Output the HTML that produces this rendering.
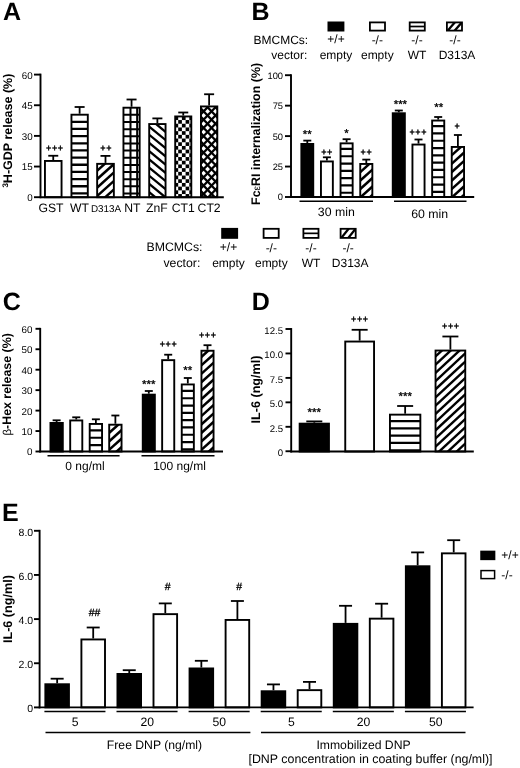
<!DOCTYPE html>
<html><head><meta charset="utf-8"><title>Figure</title>
<style>
html,body{margin:0;padding:0;background:#fff;}
svg{display:block;font-family:"Liberation Sans", Arial, Helvetica, sans-serif;fill:#000;will-change:transform;text-rendering:geometricPrecision;}
</style></head><body>
<svg width="520" height="768" viewBox="0 0 520 768">
<rect x="0" y="0" width="520" height="768" fill="#fff"/>
<defs><clipPath id="c1"><rect x="71.45" y="114.70" width="16.35" height="82.50"/></clipPath><clipPath id="c2"><rect x="97.15" y="163.85" width="16.70" height="33.35"/></clipPath><clipPath id="c3"><rect x="123.45" y="107.70" width="16.20" height="89.50"/></clipPath><clipPath id="c4"><rect x="149.20" y="124.05" width="16.35" height="73.15"/></clipPath><clipPath id="c5"><rect x="175.20" y="116.45" width="16.10" height="80.75"/></clipPath><clipPath id="c6"><rect x="200.95" y="106.45" width="16.35" height="90.75"/></clipPath><clipPath id="c7"><rect x="447.00" y="22.50" width="14.9" height="8"/></clipPath><clipPath id="c8"><rect x="340.70" y="228.90" width="14.9" height="8.9"/></clipPath><clipPath id="c9"><rect x="340.55" y="143.35" width="12.10" height="53.65"/></clipPath><clipPath id="c10"><rect x="360.25" y="163.95" width="12.10" height="33.05"/></clipPath><clipPath id="c11"><rect x="432.15" y="120.55" width="12.10" height="76.45"/></clipPath><clipPath id="c12"><rect x="451.75" y="146.95" width="12.30" height="50.05"/></clipPath><clipPath id="c13"><rect x="89.70" y="423.95" width="12.35" height="27.55"/></clipPath><clipPath id="c14"><rect x="109.20" y="424.70" width="12.35" height="26.80"/></clipPath><clipPath id="c15"><rect x="181.75" y="384.45" width="12.10" height="67.05"/></clipPath><clipPath id="c16"><rect x="201.45" y="350.75" width="12.10" height="100.75"/></clipPath><clipPath id="c17"><rect x="389.95" y="414.65" width="30.40" height="36.85"/></clipPath><clipPath id="c18"><rect x="435.55" y="350.55" width="29.70" height="100.95"/></clipPath></defs>
<text x="3.10" y="20.20" font-size="25" text-anchor="start" font-weight="bold" >A</text>
<text x="251.50" y="20.20" font-size="25" text-anchor="start" font-weight="bold" >B</text>
<text x="2.80" y="310.40" font-size="25" text-anchor="start" font-weight="bold" >C</text>
<text x="251.80" y="310.40" font-size="25" text-anchor="start" font-weight="bold" >D</text>
<text x="2.00" y="520.70" font-size="25" text-anchor="start" font-weight="bold" >E</text>
<line x1="53.25" y1="155.75" x2="53.25" y2="160.00" stroke="#000" stroke-width="1.8" />
<line x1="48.25" y1="155.75" x2="58.25" y2="155.75" stroke="#000" stroke-width="1.8" />
<rect x="44.95" y="160.95" width="16.60" height="36.25" fill="#fff" stroke="none"/>
<rect x="44.95" y="160.95" width="16.60" height="36.25" fill="none" stroke="#000" stroke-width="1.9"/>
<line x1="79.62" y1="107.00" x2="79.62" y2="113.75" stroke="#000" stroke-width="1.8" />
<line x1="74.62" y1="107.00" x2="84.62" y2="107.00" stroke="#000" stroke-width="1.8" />
<rect x="71.45" y="114.70" width="16.35" height="82.50" fill="#fff" stroke="none"/>
<g clip-path="url(#c1)" stroke="#000" fill="none"><line x1="71.45" y1="121.80" x2="87.80" y2="121.80" stroke-width="2.3"/><line x1="71.45" y1="128.96" x2="87.80" y2="128.96" stroke-width="2.3"/><line x1="71.45" y1="136.12" x2="87.80" y2="136.12" stroke-width="2.3"/><line x1="71.45" y1="143.28" x2="87.80" y2="143.28" stroke-width="2.3"/><line x1="71.45" y1="150.44" x2="87.80" y2="150.44" stroke-width="2.3"/><line x1="71.45" y1="157.60" x2="87.80" y2="157.60" stroke-width="2.3"/><line x1="71.45" y1="164.76" x2="87.80" y2="164.76" stroke-width="2.3"/><line x1="71.45" y1="171.92" x2="87.80" y2="171.92" stroke-width="2.3"/><line x1="71.45" y1="179.08" x2="87.80" y2="179.08" stroke-width="2.3"/><line x1="71.45" y1="186.24" x2="87.80" y2="186.24" stroke-width="2.3"/><line x1="71.45" y1="193.40" x2="87.80" y2="193.40" stroke-width="2.3"/></g>
<rect x="71.45" y="114.70" width="16.35" height="82.50" fill="none" stroke="#000" stroke-width="1.9"/>
<line x1="105.50" y1="155.90" x2="105.50" y2="162.90" stroke="#000" stroke-width="1.8" />
<line x1="100.50" y1="155.90" x2="110.50" y2="155.90" stroke="#000" stroke-width="1.8" />
<rect x="97.15" y="163.85" width="16.70" height="33.35" fill="#fff" stroke="none"/>
<g clip-path="url(#c2)" stroke="#000" fill="none"><line x1="95.15" y1="138.70" x2="115.85" y2="120.07" stroke-width="2.5"/><line x1="95.15" y1="147.15" x2="115.85" y2="128.52" stroke-width="2.5"/><line x1="95.15" y1="155.60" x2="115.85" y2="136.97" stroke-width="2.5"/><line x1="95.15" y1="164.05" x2="115.85" y2="145.42" stroke-width="2.5"/><line x1="95.15" y1="172.50" x2="115.85" y2="153.87" stroke-width="2.5"/><line x1="95.15" y1="180.95" x2="115.85" y2="162.32" stroke-width="2.5"/><line x1="95.15" y1="189.40" x2="115.85" y2="170.77" stroke-width="2.5"/><line x1="95.15" y1="197.85" x2="115.85" y2="179.22" stroke-width="2.5"/><line x1="95.15" y1="206.30" x2="115.85" y2="187.67" stroke-width="2.5"/><line x1="95.15" y1="214.75" x2="115.85" y2="196.12" stroke-width="2.5"/><line x1="95.15" y1="223.20" x2="115.85" y2="204.57" stroke-width="2.5"/><line x1="95.15" y1="231.65" x2="115.85" y2="213.02" stroke-width="2.5"/><line x1="95.15" y1="240.10" x2="115.85" y2="221.47" stroke-width="2.5"/></g>
<rect x="97.15" y="163.85" width="16.70" height="33.35" fill="none" stroke="#000" stroke-width="1.9"/>
<line x1="131.55" y1="99.50" x2="131.55" y2="106.75" stroke="#000" stroke-width="1.8" />
<line x1="126.55" y1="99.50" x2="136.55" y2="99.50" stroke="#000" stroke-width="1.8" />
<rect x="123.45" y="107.70" width="16.20" height="89.50" fill="#fff" stroke="none"/>
<g clip-path="url(#c3)" stroke="#000" fill="none"><line x1="123.45" y1="114.85" x2="139.65" y2="114.85" stroke-width="2.0"/><line x1="123.45" y1="122.00" x2="139.65" y2="122.00" stroke-width="2.0"/><line x1="123.45" y1="129.15" x2="139.65" y2="129.15" stroke-width="2.0"/><line x1="123.45" y1="136.30" x2="139.65" y2="136.30" stroke-width="2.0"/><line x1="123.45" y1="143.45" x2="139.65" y2="143.45" stroke-width="2.0"/><line x1="123.45" y1="150.60" x2="139.65" y2="150.60" stroke-width="2.0"/><line x1="123.45" y1="157.75" x2="139.65" y2="157.75" stroke-width="2.0"/><line x1="123.45" y1="164.90" x2="139.65" y2="164.90" stroke-width="2.0"/><line x1="123.45" y1="172.05" x2="139.65" y2="172.05" stroke-width="2.0"/><line x1="123.45" y1="179.20" x2="139.65" y2="179.20" stroke-width="2.0"/><line x1="123.45" y1="186.35" x2="139.65" y2="186.35" stroke-width="2.0"/><line x1="123.45" y1="193.50" x2="139.65" y2="193.50" stroke-width="2.0"/><line x1="130.50" y1="107.70" x2="130.50" y2="197.20" stroke-width="2.0"/><line x1="137.15" y1="107.70" x2="137.15" y2="197.20" stroke-width="2.0"/></g>
<rect x="123.45" y="107.70" width="16.20" height="89.50" fill="none" stroke="#000" stroke-width="1.9"/>
<line x1="157.38" y1="118.40" x2="157.38" y2="123.10" stroke="#000" stroke-width="1.8" />
<line x1="152.38" y1="118.40" x2="162.38" y2="118.40" stroke="#000" stroke-width="1.8" />
<rect x="149.20" y="124.05" width="16.35" height="73.15" fill="#fff" stroke="none"/>
<g clip-path="url(#c4)" stroke="#000" fill="none"><line x1="147.20" y1="92.16" x2="167.55" y2="108.85" stroke-width="2.3"/><line x1="147.20" y1="100.36" x2="167.55" y2="117.05" stroke-width="2.3"/><line x1="147.20" y1="108.56" x2="167.55" y2="125.25" stroke-width="2.3"/><line x1="147.20" y1="116.76" x2="167.55" y2="133.45" stroke-width="2.3"/><line x1="147.20" y1="124.96" x2="167.55" y2="141.65" stroke-width="2.3"/><line x1="147.20" y1="133.16" x2="167.55" y2="149.85" stroke-width="2.3"/><line x1="147.20" y1="141.36" x2="167.55" y2="158.05" stroke-width="2.3"/><line x1="147.20" y1="149.56" x2="167.55" y2="166.25" stroke-width="2.3"/><line x1="147.20" y1="157.76" x2="167.55" y2="174.45" stroke-width="2.3"/><line x1="147.20" y1="165.96" x2="167.55" y2="182.65" stroke-width="2.3"/><line x1="147.20" y1="174.16" x2="167.55" y2="190.85" stroke-width="2.3"/><line x1="147.20" y1="182.36" x2="167.55" y2="199.05" stroke-width="2.3"/><line x1="147.20" y1="190.56" x2="167.55" y2="207.25" stroke-width="2.3"/><line x1="147.20" y1="198.76" x2="167.55" y2="215.45" stroke-width="2.3"/><line x1="147.20" y1="206.96" x2="167.55" y2="223.65" stroke-width="2.3"/><line x1="147.20" y1="215.16" x2="167.55" y2="231.85" stroke-width="2.3"/><line x1="147.20" y1="223.36" x2="167.55" y2="240.05" stroke-width="2.3"/><line x1="147.20" y1="231.56" x2="167.55" y2="248.25" stroke-width="2.3"/><line x1="147.20" y1="239.76" x2="167.55" y2="256.45" stroke-width="2.3"/></g>
<rect x="149.20" y="124.05" width="16.35" height="73.15" fill="none" stroke="#000" stroke-width="1.9"/>
<line x1="183.25" y1="112.50" x2="183.25" y2="115.50" stroke="#000" stroke-width="1.8" />
<line x1="178.25" y1="112.50" x2="188.25" y2="112.50" stroke="#000" stroke-width="1.8" />
<rect x="175.20" y="116.45" width="16.10" height="80.75" fill="#fff" stroke="none"/>
<g clip-path="url(#c5)" fill="#000" stroke="none"><rect x="170.80" y="112.65" width="3.70" height="3.70"/><rect x="178.20" y="112.65" width="3.70" height="3.70"/><rect x="185.60" y="112.65" width="3.70" height="3.70"/><rect x="193.00" y="112.65" width="3.70" height="3.70"/><rect x="174.50" y="116.35" width="3.70" height="3.70"/><rect x="181.90" y="116.35" width="3.70" height="3.70"/><rect x="189.30" y="116.35" width="3.70" height="3.70"/><rect x="170.80" y="120.05" width="3.70" height="3.70"/><rect x="178.20" y="120.05" width="3.70" height="3.70"/><rect x="185.60" y="120.05" width="3.70" height="3.70"/><rect x="193.00" y="120.05" width="3.70" height="3.70"/><rect x="174.50" y="123.75" width="3.70" height="3.70"/><rect x="181.90" y="123.75" width="3.70" height="3.70"/><rect x="189.30" y="123.75" width="3.70" height="3.70"/><rect x="170.80" y="127.45" width="3.70" height="3.70"/><rect x="178.20" y="127.45" width="3.70" height="3.70"/><rect x="185.60" y="127.45" width="3.70" height="3.70"/><rect x="193.00" y="127.45" width="3.70" height="3.70"/><rect x="174.50" y="131.15" width="3.70" height="3.70"/><rect x="181.90" y="131.15" width="3.70" height="3.70"/><rect x="189.30" y="131.15" width="3.70" height="3.70"/><rect x="170.80" y="134.85" width="3.70" height="3.70"/><rect x="178.20" y="134.85" width="3.70" height="3.70"/><rect x="185.60" y="134.85" width="3.70" height="3.70"/><rect x="193.00" y="134.85" width="3.70" height="3.70"/><rect x="174.50" y="138.55" width="3.70" height="3.70"/><rect x="181.90" y="138.55" width="3.70" height="3.70"/><rect x="189.30" y="138.55" width="3.70" height="3.70"/><rect x="170.80" y="142.25" width="3.70" height="3.70"/><rect x="178.20" y="142.25" width="3.70" height="3.70"/><rect x="185.60" y="142.25" width="3.70" height="3.70"/><rect x="193.00" y="142.25" width="3.70" height="3.70"/><rect x="174.50" y="145.95" width="3.70" height="3.70"/><rect x="181.90" y="145.95" width="3.70" height="3.70"/><rect x="189.30" y="145.95" width="3.70" height="3.70"/><rect x="170.80" y="149.65" width="3.70" height="3.70"/><rect x="178.20" y="149.65" width="3.70" height="3.70"/><rect x="185.60" y="149.65" width="3.70" height="3.70"/><rect x="193.00" y="149.65" width="3.70" height="3.70"/><rect x="174.50" y="153.35" width="3.70" height="3.70"/><rect x="181.90" y="153.35" width="3.70" height="3.70"/><rect x="189.30" y="153.35" width="3.70" height="3.70"/><rect x="170.80" y="157.05" width="3.70" height="3.70"/><rect x="178.20" y="157.05" width="3.70" height="3.70"/><rect x="185.60" y="157.05" width="3.70" height="3.70"/><rect x="193.00" y="157.05" width="3.70" height="3.70"/><rect x="174.50" y="160.75" width="3.70" height="3.70"/><rect x="181.90" y="160.75" width="3.70" height="3.70"/><rect x="189.30" y="160.75" width="3.70" height="3.70"/><rect x="170.80" y="164.45" width="3.70" height="3.70"/><rect x="178.20" y="164.45" width="3.70" height="3.70"/><rect x="185.60" y="164.45" width="3.70" height="3.70"/><rect x="193.00" y="164.45" width="3.70" height="3.70"/><rect x="174.50" y="168.15" width="3.70" height="3.70"/><rect x="181.90" y="168.15" width="3.70" height="3.70"/><rect x="189.30" y="168.15" width="3.70" height="3.70"/><rect x="170.80" y="171.85" width="3.70" height="3.70"/><rect x="178.20" y="171.85" width="3.70" height="3.70"/><rect x="185.60" y="171.85" width="3.70" height="3.70"/><rect x="193.00" y="171.85" width="3.70" height="3.70"/><rect x="174.50" y="175.55" width="3.70" height="3.70"/><rect x="181.90" y="175.55" width="3.70" height="3.70"/><rect x="189.30" y="175.55" width="3.70" height="3.70"/><rect x="170.80" y="179.25" width="3.70" height="3.70"/><rect x="178.20" y="179.25" width="3.70" height="3.70"/><rect x="185.60" y="179.25" width="3.70" height="3.70"/><rect x="193.00" y="179.25" width="3.70" height="3.70"/><rect x="174.50" y="182.95" width="3.70" height="3.70"/><rect x="181.90" y="182.95" width="3.70" height="3.70"/><rect x="189.30" y="182.95" width="3.70" height="3.70"/><rect x="170.80" y="186.65" width="3.70" height="3.70"/><rect x="178.20" y="186.65" width="3.70" height="3.70"/><rect x="185.60" y="186.65" width="3.70" height="3.70"/><rect x="193.00" y="186.65" width="3.70" height="3.70"/><rect x="174.50" y="190.35" width="3.70" height="3.70"/><rect x="181.90" y="190.35" width="3.70" height="3.70"/><rect x="189.30" y="190.35" width="3.70" height="3.70"/><rect x="170.80" y="194.05" width="3.70" height="3.70"/><rect x="178.20" y="194.05" width="3.70" height="3.70"/><rect x="185.60" y="194.05" width="3.70" height="3.70"/><rect x="193.00" y="194.05" width="3.70" height="3.70"/><rect x="174.50" y="197.75" width="3.70" height="3.70"/><rect x="181.90" y="197.75" width="3.70" height="3.70"/><rect x="189.30" y="197.75" width="3.70" height="3.70"/></g>
<rect x="175.20" y="116.45" width="16.10" height="80.75" fill="none" stroke="#000" stroke-width="1.9"/>
<line x1="209.12" y1="94.25" x2="209.12" y2="105.50" stroke="#000" stroke-width="1.8" />
<line x1="204.12" y1="94.25" x2="214.12" y2="94.25" stroke="#000" stroke-width="1.8" />
<rect x="200.95" y="106.45" width="16.35" height="90.75" fill="#fff" stroke="none"/>
<g clip-path="url(#c6)" stroke="#000" fill="none"><line x1="198.95" y1="83.28" x2="219.30" y2="62.03" stroke-width="2.3"/><line x1="198.95" y1="65.22" x2="219.30" y2="86.47" stroke-width="2.3"/><line x1="198.95" y1="91.53" x2="219.30" y2="70.28" stroke-width="2.3"/><line x1="198.95" y1="73.47" x2="219.30" y2="94.72" stroke-width="2.3"/><line x1="198.95" y1="99.78" x2="219.30" y2="78.53" stroke-width="2.3"/><line x1="198.95" y1="81.72" x2="219.30" y2="102.97" stroke-width="2.3"/><line x1="198.95" y1="108.03" x2="219.30" y2="86.78" stroke-width="2.3"/><line x1="198.95" y1="89.97" x2="219.30" y2="111.22" stroke-width="2.3"/><line x1="198.95" y1="116.28" x2="219.30" y2="95.03" stroke-width="2.3"/><line x1="198.95" y1="98.22" x2="219.30" y2="119.47" stroke-width="2.3"/><line x1="198.95" y1="124.53" x2="219.30" y2="103.28" stroke-width="2.3"/><line x1="198.95" y1="106.47" x2="219.30" y2="127.72" stroke-width="2.3"/><line x1="198.95" y1="132.78" x2="219.30" y2="111.53" stroke-width="2.3"/><line x1="198.95" y1="114.72" x2="219.30" y2="135.97" stroke-width="2.3"/><line x1="198.95" y1="141.03" x2="219.30" y2="119.78" stroke-width="2.3"/><line x1="198.95" y1="122.97" x2="219.30" y2="144.22" stroke-width="2.3"/><line x1="198.95" y1="149.28" x2="219.30" y2="128.03" stroke-width="2.3"/><line x1="198.95" y1="131.22" x2="219.30" y2="152.47" stroke-width="2.3"/><line x1="198.95" y1="157.53" x2="219.30" y2="136.28" stroke-width="2.3"/><line x1="198.95" y1="139.47" x2="219.30" y2="160.72" stroke-width="2.3"/><line x1="198.95" y1="165.78" x2="219.30" y2="144.53" stroke-width="2.3"/><line x1="198.95" y1="147.72" x2="219.30" y2="168.97" stroke-width="2.3"/><line x1="198.95" y1="174.03" x2="219.30" y2="152.78" stroke-width="2.3"/><line x1="198.95" y1="155.97" x2="219.30" y2="177.22" stroke-width="2.3"/><line x1="198.95" y1="182.28" x2="219.30" y2="161.03" stroke-width="2.3"/><line x1="198.95" y1="164.22" x2="219.30" y2="185.47" stroke-width="2.3"/><line x1="198.95" y1="190.53" x2="219.30" y2="169.28" stroke-width="2.3"/><line x1="198.95" y1="172.47" x2="219.30" y2="193.72" stroke-width="2.3"/><line x1="198.95" y1="198.78" x2="219.30" y2="177.53" stroke-width="2.3"/><line x1="198.95" y1="180.72" x2="219.30" y2="201.97" stroke-width="2.3"/><line x1="198.95" y1="207.03" x2="219.30" y2="185.78" stroke-width="2.3"/><line x1="198.95" y1="188.97" x2="219.30" y2="210.22" stroke-width="2.3"/><line x1="198.95" y1="215.28" x2="219.30" y2="194.03" stroke-width="2.3"/><line x1="198.95" y1="197.22" x2="219.30" y2="218.47" stroke-width="2.3"/><line x1="198.95" y1="223.53" x2="219.30" y2="202.28" stroke-width="2.3"/><line x1="198.95" y1="205.47" x2="219.30" y2="226.72" stroke-width="2.3"/><line x1="198.95" y1="231.78" x2="219.30" y2="210.53" stroke-width="2.3"/><line x1="198.95" y1="213.72" x2="219.30" y2="234.97" stroke-width="2.3"/><line x1="198.95" y1="240.03" x2="219.30" y2="218.78" stroke-width="2.3"/><line x1="198.95" y1="221.97" x2="219.30" y2="243.22" stroke-width="2.3"/><line x1="198.95" y1="248.28" x2="219.30" y2="227.03" stroke-width="2.3"/><line x1="198.95" y1="230.22" x2="219.30" y2="251.47" stroke-width="2.3"/></g>
<rect x="200.95" y="106.45" width="16.35" height="90.75" fill="none" stroke="#000" stroke-width="1.9"/>
<line x1="40.50" y1="73.65" x2="40.50" y2="198.15" stroke="#000" stroke-width="1.9" />
<line x1="34.00" y1="74.60" x2="40.50" y2="74.60" stroke="#000" stroke-width="1.9" />
<text x="32.60" y="78.53" font-size="9.8" text-anchor="end" >60</text>
<line x1="34.00" y1="105.25" x2="40.50" y2="105.25" stroke="#000" stroke-width="1.9" />
<text x="32.60" y="109.18" font-size="9.8" text-anchor="end" >45</text>
<line x1="34.00" y1="135.90" x2="40.50" y2="135.90" stroke="#000" stroke-width="1.9" />
<text x="32.60" y="139.83" font-size="9.8" text-anchor="end" >30</text>
<line x1="34.00" y1="166.55" x2="40.50" y2="166.55" stroke="#000" stroke-width="1.9" />
<text x="32.60" y="170.48" font-size="9.8" text-anchor="end" >15</text>
<line x1="34.00" y1="197.20" x2="40.50" y2="197.20" stroke="#000" stroke-width="1.9" />
<text x="32.60" y="201.13" font-size="9.8" text-anchor="end" >0</text>
<line x1="39.70" y1="197.20" x2="223.80" y2="197.20" stroke="#000" stroke-width="1.9" />
<text x="12.00" y="130.60" font-size="12.5" text-anchor="middle" font-weight="bold" transform="rotate(-90 12.00 130.60)" ><tspan font-size="8" dy="-3.5">3</tspan><tspan dy="3.5">H-GDP release (%)</tspan></text>
<text x="51.00" y="211.80" font-size="12.2" text-anchor="middle" >GST</text>
<text x="79.50" y="211.80" font-size="12.2" text-anchor="middle" >WT</text>
<text x="106.00" y="211.80" font-size="9.9" text-anchor="middle" >D313A</text>
<text x="132.30" y="211.80" font-size="12.2" text-anchor="middle" >NT</text>
<text x="156.90" y="211.80" font-size="12.2" text-anchor="middle" >ZnF</text>
<text x="183.30" y="211.80" font-size="12.2" text-anchor="middle" >CT1</text>
<text x="209.10" y="211.80" font-size="12.2" text-anchor="middle" >CT2</text>
<text x="54.90" y="150.80" font-size="9" text-anchor="middle" letter-spacing="0.6" stroke="#000" stroke-width="0.45">+++</text>
<text x="106.20" y="150.80" font-size="9" text-anchor="middle" letter-spacing="0.6" stroke="#000" stroke-width="0.45">++</text>
<rect x="328.40" y="22.40" width="15.10" height="8.20" fill="#000" stroke="#000" stroke-width="1.8"/>
<rect x="369.90" y="22.40" width="15.10" height="8.20" fill="#fff" stroke="#000" stroke-width="1.8"/>
<rect x="409.70" y="22.40" width="15.10" height="8.20" fill="#fff" stroke="#000" stroke-width="1.8"/>
<line x1="409.80" y1="26.50" x2="424.80" y2="26.50" stroke="#000" stroke-width="1.7" />
<rect x="446.90" y="22.40" width="15.10" height="8.20" fill="#fff" stroke="#000" stroke-width="1.8"/>
<g clip-path="url(#c7)" stroke="#000" stroke-width="2.3"><line x1="446.5" y1="32.0" x2="456" y2="21.0"/><line x1="453.5" y1="32.0" x2="463" y2="21.0"/></g>
<text x="253.50" y="43.60" font-size="12" text-anchor="start" >BMCMCs:</text>
<text x="307.30" y="58.70" font-size="12" text-anchor="end" >vector:</text>
<text x="336.00" y="43.40" font-size="12" text-anchor="middle" >+/+</text>
<text x="336.00" y="58.70" font-size="12" text-anchor="middle" >empty</text>
<text x="377.30" y="44.20" font-size="12" text-anchor="middle" >-/-</text>
<text x="377.30" y="58.70" font-size="12" text-anchor="middle" >empty</text>
<text x="417.00" y="44.20" font-size="12" text-anchor="middle" >-/-</text>
<text x="417.00" y="58.70" font-size="12" text-anchor="middle" >WT</text>
<text x="455.00" y="44.20" font-size="12" text-anchor="middle" >-/-</text>
<text x="457.00" y="58.70" font-size="12" text-anchor="middle" >D313A</text>
<rect x="222.10" y="228.80" width="15.10" height="9.10" fill="#000" stroke="#000" stroke-width="1.8"/>
<rect x="263.60" y="228.80" width="15.10" height="9.10" fill="#fff" stroke="#000" stroke-width="1.8"/>
<rect x="303.40" y="228.80" width="15.10" height="9.10" fill="#fff" stroke="#000" stroke-width="1.8"/>
<line x1="303.50" y1="233.35" x2="318.50" y2="233.35" stroke="#000" stroke-width="1.7" />
<rect x="340.60" y="228.80" width="15.10" height="9.10" fill="#fff" stroke="#000" stroke-width="1.8"/>
<g clip-path="url(#c8)" stroke="#000" stroke-width="2.3"><line x1="340.2" y1="239.3" x2="349.7" y2="227.4"/><line x1="347.2" y1="239.3" x2="356.7" y2="227.4"/></g>
<text x="146.50" y="251.10" font-size="12.3" text-anchor="start" >BMCMCs:</text>
<text x="200.30" y="266.70" font-size="12.3" text-anchor="end" >vector:</text>
<text x="228.50" y="250.90" font-size="12" text-anchor="middle" >+/+</text>
<text x="228.50" y="266.70" font-size="12" text-anchor="middle" >empty</text>
<text x="271.30" y="251.70" font-size="12" text-anchor="middle" >-/-</text>
<text x="271.30" y="266.70" font-size="12" text-anchor="middle" >empty</text>
<text x="311.00" y="251.70" font-size="12" text-anchor="middle" >-/-</text>
<text x="311.00" y="266.70" font-size="12" text-anchor="middle" >WT</text>
<text x="348.20" y="251.70" font-size="12" text-anchor="middle" >-/-</text>
<text x="350.20" y="266.70" font-size="12" text-anchor="middle" >D313A</text>
<line x1="307.30" y1="140.60" x2="307.30" y2="143.00" stroke="#000" stroke-width="1.8" />
<line x1="303.30" y1="140.60" x2="311.30" y2="140.60" stroke="#000" stroke-width="1.8" />
<rect x="301.35" y="143.95" width="11.90" height="53.05" fill="#000" stroke="none"/>
<rect x="301.35" y="143.95" width="11.90" height="53.05" fill="none" stroke="#000" stroke-width="1.9"/>
<line x1="326.90" y1="157.30" x2="326.90" y2="160.50" stroke="#000" stroke-width="1.8" />
<line x1="322.90" y1="157.30" x2="330.90" y2="157.30" stroke="#000" stroke-width="1.8" />
<rect x="320.95" y="161.45" width="11.90" height="35.55" fill="#fff" stroke="none"/>
<rect x="320.95" y="161.45" width="11.90" height="35.55" fill="none" stroke="#000" stroke-width="1.9"/>
<line x1="346.60" y1="139.20" x2="346.60" y2="142.40" stroke="#000" stroke-width="1.8" />
<line x1="342.60" y1="139.20" x2="350.60" y2="139.20" stroke="#000" stroke-width="1.8" />
<rect x="340.55" y="143.35" width="12.10" height="53.65" fill="#fff" stroke="none"/>
<g clip-path="url(#c9)" stroke="#000" fill="none"><line x1="340.55" y1="148.95" x2="352.65" y2="148.95" stroke-width="2.2"/><line x1="340.55" y1="156.25" x2="352.65" y2="156.25" stroke-width="2.2"/><line x1="340.55" y1="163.55" x2="352.65" y2="163.55" stroke-width="2.2"/><line x1="340.55" y1="170.85" x2="352.65" y2="170.85" stroke-width="2.2"/><line x1="340.55" y1="178.15" x2="352.65" y2="178.15" stroke-width="2.2"/><line x1="340.55" y1="185.45" x2="352.65" y2="185.45" stroke-width="2.2"/><line x1="340.55" y1="192.75" x2="352.65" y2="192.75" stroke-width="2.2"/></g>
<rect x="340.55" y="143.35" width="12.10" height="53.65" fill="none" stroke="#000" stroke-width="1.9"/>
<line x1="366.30" y1="159.60" x2="366.30" y2="163.00" stroke="#000" stroke-width="1.8" />
<line x1="362.30" y1="159.60" x2="370.30" y2="159.60" stroke="#000" stroke-width="1.8" />
<rect x="360.25" y="163.95" width="12.10" height="33.05" fill="#fff" stroke="none"/>
<g clip-path="url(#c10)" stroke="#000" fill="none"><line x1="358.25" y1="140.10" x2="374.35" y2="125.61" stroke-width="2.5"/><line x1="358.25" y1="148.55" x2="374.35" y2="134.06" stroke-width="2.5"/><line x1="358.25" y1="157.00" x2="374.35" y2="142.51" stroke-width="2.5"/><line x1="358.25" y1="165.45" x2="374.35" y2="150.96" stroke-width="2.5"/><line x1="358.25" y1="173.90" x2="374.35" y2="159.41" stroke-width="2.5"/><line x1="358.25" y1="182.35" x2="374.35" y2="167.86" stroke-width="2.5"/><line x1="358.25" y1="190.80" x2="374.35" y2="176.31" stroke-width="2.5"/><line x1="358.25" y1="199.25" x2="374.35" y2="184.76" stroke-width="2.5"/><line x1="358.25" y1="207.70" x2="374.35" y2="193.21" stroke-width="2.5"/><line x1="358.25" y1="216.15" x2="374.35" y2="201.66" stroke-width="2.5"/><line x1="358.25" y1="224.60" x2="374.35" y2="210.11" stroke-width="2.5"/><line x1="358.25" y1="233.05" x2="374.35" y2="218.56" stroke-width="2.5"/><line x1="358.25" y1="241.50" x2="374.35" y2="227.01" stroke-width="2.5"/></g>
<rect x="360.25" y="163.95" width="12.10" height="33.05" fill="none" stroke="#000" stroke-width="1.9"/>
<line x1="398.80" y1="110.50" x2="398.80" y2="112.30" stroke="#000" stroke-width="1.8" />
<line x1="394.80" y1="110.50" x2="402.80" y2="110.50" stroke="#000" stroke-width="1.8" />
<rect x="392.75" y="113.25" width="12.10" height="83.75" fill="#000" stroke="none"/>
<rect x="392.75" y="113.25" width="12.10" height="83.75" fill="none" stroke="#000" stroke-width="1.9"/>
<line x1="418.50" y1="139.50" x2="418.50" y2="143.60" stroke="#000" stroke-width="1.8" />
<line x1="414.50" y1="139.50" x2="422.50" y2="139.50" stroke="#000" stroke-width="1.8" />
<rect x="412.45" y="144.55" width="12.10" height="52.45" fill="#fff" stroke="none"/>
<rect x="412.45" y="144.55" width="12.10" height="52.45" fill="none" stroke="#000" stroke-width="1.9"/>
<line x1="438.20" y1="117.00" x2="438.20" y2="119.60" stroke="#000" stroke-width="1.8" />
<line x1="434.20" y1="117.00" x2="442.20" y2="117.00" stroke="#000" stroke-width="1.8" />
<rect x="432.15" y="120.55" width="12.10" height="76.45" fill="#fff" stroke="none"/>
<g clip-path="url(#c11)" stroke="#000" fill="none"><line x1="432.15" y1="126.15" x2="444.25" y2="126.15" stroke-width="2.2"/><line x1="432.15" y1="133.45" x2="444.25" y2="133.45" stroke-width="2.2"/><line x1="432.15" y1="140.75" x2="444.25" y2="140.75" stroke-width="2.2"/><line x1="432.15" y1="148.05" x2="444.25" y2="148.05" stroke-width="2.2"/><line x1="432.15" y1="155.35" x2="444.25" y2="155.35" stroke-width="2.2"/><line x1="432.15" y1="162.65" x2="444.25" y2="162.65" stroke-width="2.2"/><line x1="432.15" y1="169.95" x2="444.25" y2="169.95" stroke-width="2.2"/><line x1="432.15" y1="177.25" x2="444.25" y2="177.25" stroke-width="2.2"/><line x1="432.15" y1="184.55" x2="444.25" y2="184.55" stroke-width="2.2"/><line x1="432.15" y1="191.85" x2="444.25" y2="191.85" stroke-width="2.2"/></g>
<rect x="432.15" y="120.55" width="12.10" height="76.45" fill="none" stroke="#000" stroke-width="1.9"/>
<line x1="457.90" y1="135.00" x2="457.90" y2="146.00" stroke="#000" stroke-width="1.8" />
<line x1="453.90" y1="135.00" x2="461.90" y2="135.00" stroke="#000" stroke-width="1.8" />
<rect x="451.75" y="146.95" width="12.30" height="50.05" fill="#fff" stroke="none"/>
<g clip-path="url(#c12)" stroke="#000" fill="none"><line x1="449.75" y1="123.20" x2="466.05" y2="108.53" stroke-width="2.5"/><line x1="449.75" y1="131.65" x2="466.05" y2="116.98" stroke-width="2.5"/><line x1="449.75" y1="140.10" x2="466.05" y2="125.43" stroke-width="2.5"/><line x1="449.75" y1="148.55" x2="466.05" y2="133.88" stroke-width="2.5"/><line x1="449.75" y1="157.00" x2="466.05" y2="142.33" stroke-width="2.5"/><line x1="449.75" y1="165.45" x2="466.05" y2="150.78" stroke-width="2.5"/><line x1="449.75" y1="173.90" x2="466.05" y2="159.23" stroke-width="2.5"/><line x1="449.75" y1="182.35" x2="466.05" y2="167.68" stroke-width="2.5"/><line x1="449.75" y1="190.80" x2="466.05" y2="176.13" stroke-width="2.5"/><line x1="449.75" y1="199.25" x2="466.05" y2="184.58" stroke-width="2.5"/><line x1="449.75" y1="207.70" x2="466.05" y2="193.03" stroke-width="2.5"/><line x1="449.75" y1="216.15" x2="466.05" y2="201.48" stroke-width="2.5"/><line x1="449.75" y1="224.60" x2="466.05" y2="209.93" stroke-width="2.5"/><line x1="449.75" y1="233.05" x2="466.05" y2="218.38" stroke-width="2.5"/><line x1="449.75" y1="241.50" x2="466.05" y2="226.83" stroke-width="2.5"/></g>
<rect x="451.75" y="146.95" width="12.30" height="50.05" fill="none" stroke="#000" stroke-width="1.9"/>
<line x1="291.00" y1="74.25" x2="291.00" y2="197.95" stroke="#000" stroke-width="1.9" />
<line x1="285.00" y1="75.20" x2="291.00" y2="75.20" stroke="#000" stroke-width="1.9" />
<text x="283.00" y="78.65" font-size="9.3" text-anchor="end" >100</text>
<line x1="285.00" y1="105.65" x2="291.00" y2="105.65" stroke="#000" stroke-width="1.9" />
<text x="283.00" y="109.10" font-size="9.3" text-anchor="end" >75</text>
<line x1="285.00" y1="136.10" x2="291.00" y2="136.10" stroke="#000" stroke-width="1.9" />
<text x="283.00" y="139.55" font-size="9.3" text-anchor="end" >50</text>
<line x1="285.00" y1="166.55" x2="291.00" y2="166.55" stroke="#000" stroke-width="1.9" />
<text x="283.00" y="170.00" font-size="9.3" text-anchor="end" >25</text>
<line x1="285.00" y1="197.00" x2="291.00" y2="197.00" stroke="#000" stroke-width="1.9" />
<text x="283.00" y="200.45" font-size="9.3" text-anchor="end" >0</text>
<line x1="290.40" y1="197.00" x2="474.20" y2="197.00" stroke="#000" stroke-width="1.9" />
<line x1="299.50" y1="201.30" x2="373.00" y2="201.30" stroke="#000" stroke-width="1.5" />
<line x1="394.00" y1="201.30" x2="466.50" y2="201.30" stroke="#000" stroke-width="1.5" />
<text x="336.30" y="216.00" font-size="12.3" text-anchor="middle" >30 min</text>
<text x="429.70" y="217.60" font-size="12.3" text-anchor="middle" >60 min</text>
<text x="260.30" y="133.90" font-size="12.45" text-anchor="middle" font-weight="bold" transform="rotate(-90 260.30 133.90)" >Fc<tspan font-size="10" font-weight="normal">ε</tspan>RI internalization (%)</text>
<text x="307.30" y="137.90" font-size="11.5" text-anchor="middle" stroke="#000" stroke-width="0.3">**</text>
<text x="327.00" y="154.60" font-size="9" text-anchor="middle" letter-spacing="0.6" stroke="#000" stroke-width="0.45">++</text>
<text x="346.60" y="136.90" font-size="11.5" text-anchor="middle" stroke="#000" stroke-width="0.3">*</text>
<text x="366.40" y="155.00" font-size="9" text-anchor="middle" letter-spacing="0.6" stroke="#000" stroke-width="0.45">++</text>
<text x="400.40" y="107.90" font-size="11.5" text-anchor="middle" stroke="#000" stroke-width="0.3">***</text>
<text x="418.30" y="135.00" font-size="9" text-anchor="middle" letter-spacing="0.6" stroke="#000" stroke-width="0.45">+++</text>
<text x="438.80" y="110.50" font-size="11.5" text-anchor="middle" stroke="#000" stroke-width="0.3">**</text>
<text x="457.50" y="129.00" font-size="9" text-anchor="middle" letter-spacing="0.6" stroke="#000" stroke-width="0.45">+</text>
<line x1="56.62" y1="420.30" x2="56.62" y2="422.00" stroke="#000" stroke-width="1.8" />
<line x1="52.62" y1="420.30" x2="60.62" y2="420.30" stroke="#000" stroke-width="1.8" />
<rect x="50.45" y="422.95" width="12.35" height="28.55" fill="#000" stroke="none"/>
<rect x="50.45" y="422.95" width="12.35" height="28.55" fill="none" stroke="#000" stroke-width="1.9"/>
<line x1="76.25" y1="417.30" x2="76.25" y2="419.50" stroke="#000" stroke-width="1.8" />
<line x1="72.25" y1="417.30" x2="80.25" y2="417.30" stroke="#000" stroke-width="1.8" />
<rect x="70.20" y="420.45" width="12.10" height="31.05" fill="#fff" stroke="none"/>
<rect x="70.20" y="420.45" width="12.10" height="31.05" fill="none" stroke="#000" stroke-width="1.9"/>
<line x1="95.88" y1="419.30" x2="95.88" y2="423.00" stroke="#000" stroke-width="1.8" />
<line x1="91.88" y1="419.30" x2="99.88" y2="419.30" stroke="#000" stroke-width="1.8" />
<rect x="89.70" y="423.95" width="12.35" height="27.55" fill="#fff" stroke="none"/>
<g clip-path="url(#c13)" stroke="#000" fill="none"><line x1="89.70" y1="430.45" x2="102.05" y2="430.45" stroke-width="2.2"/><line x1="89.70" y1="437.75" x2="102.05" y2="437.75" stroke-width="2.2"/><line x1="89.70" y1="445.05" x2="102.05" y2="445.05" stroke-width="2.2"/></g>
<rect x="89.70" y="423.95" width="12.35" height="27.55" fill="none" stroke="#000" stroke-width="1.9"/>
<line x1="115.38" y1="415.50" x2="115.38" y2="423.75" stroke="#000" stroke-width="1.8" />
<line x1="111.38" y1="415.50" x2="119.38" y2="415.50" stroke="#000" stroke-width="1.8" />
<rect x="109.20" y="424.70" width="12.35" height="26.80" fill="#fff" stroke="none"/>
<g clip-path="url(#c14)" stroke="#000" fill="none"><line x1="107.20" y1="392.40" x2="123.55" y2="377.69" stroke-width="2.5"/><line x1="107.20" y1="400.85" x2="123.55" y2="386.13" stroke-width="2.5"/><line x1="107.20" y1="409.30" x2="123.55" y2="394.58" stroke-width="2.5"/><line x1="107.20" y1="417.75" x2="123.55" y2="403.03" stroke-width="2.5"/><line x1="107.20" y1="426.20" x2="123.55" y2="411.48" stroke-width="2.5"/><line x1="107.20" y1="434.65" x2="123.55" y2="419.94" stroke-width="2.5"/><line x1="107.20" y1="443.10" x2="123.55" y2="428.38" stroke-width="2.5"/><line x1="107.20" y1="451.55" x2="123.55" y2="436.83" stroke-width="2.5"/><line x1="107.20" y1="460.00" x2="123.55" y2="445.28" stroke-width="2.5"/><line x1="107.20" y1="468.45" x2="123.55" y2="453.73" stroke-width="2.5"/><line x1="107.20" y1="476.90" x2="123.55" y2="462.19" stroke-width="2.5"/><line x1="107.20" y1="485.35" x2="123.55" y2="470.63" stroke-width="2.5"/><line x1="107.20" y1="493.80" x2="123.55" y2="479.08" stroke-width="2.5"/></g>
<rect x="109.20" y="424.70" width="12.35" height="26.80" fill="none" stroke="#000" stroke-width="1.9"/>
<line x1="148.80" y1="391.00" x2="148.80" y2="393.70" stroke="#000" stroke-width="1.8" />
<line x1="144.80" y1="391.00" x2="152.80" y2="391.00" stroke="#000" stroke-width="1.8" />
<rect x="142.75" y="394.65" width="12.10" height="56.85" fill="#000" stroke="none"/>
<rect x="142.75" y="394.65" width="12.10" height="56.85" fill="none" stroke="#000" stroke-width="1.9"/>
<line x1="168.20" y1="354.70" x2="168.20" y2="359.20" stroke="#000" stroke-width="1.8" />
<line x1="164.20" y1="354.70" x2="172.20" y2="354.70" stroke="#000" stroke-width="1.8" />
<rect x="162.15" y="360.15" width="12.10" height="91.35" fill="#fff" stroke="none"/>
<rect x="162.15" y="360.15" width="12.10" height="91.35" fill="none" stroke="#000" stroke-width="1.9"/>
<line x1="187.80" y1="378.00" x2="187.80" y2="383.50" stroke="#000" stroke-width="1.8" />
<line x1="183.80" y1="378.00" x2="191.80" y2="378.00" stroke="#000" stroke-width="1.8" />
<rect x="181.75" y="384.45" width="12.10" height="67.05" fill="#fff" stroke="none"/>
<g clip-path="url(#c15)" stroke="#000" fill="none"><line x1="181.75" y1="390.95" x2="193.85" y2="390.95" stroke-width="2.2"/><line x1="181.75" y1="398.25" x2="193.85" y2="398.25" stroke-width="2.2"/><line x1="181.75" y1="405.55" x2="193.85" y2="405.55" stroke-width="2.2"/><line x1="181.75" y1="412.85" x2="193.85" y2="412.85" stroke-width="2.2"/><line x1="181.75" y1="420.15" x2="193.85" y2="420.15" stroke-width="2.2"/><line x1="181.75" y1="427.45" x2="193.85" y2="427.45" stroke-width="2.2"/><line x1="181.75" y1="434.75" x2="193.85" y2="434.75" stroke-width="2.2"/><line x1="181.75" y1="442.05" x2="193.85" y2="442.05" stroke-width="2.2"/><line x1="181.75" y1="449.35" x2="193.85" y2="449.35" stroke-width="2.2"/></g>
<rect x="181.75" y="384.45" width="12.10" height="67.05" fill="none" stroke="#000" stroke-width="1.9"/>
<line x1="207.50" y1="345.20" x2="207.50" y2="349.80" stroke="#000" stroke-width="1.8" />
<line x1="203.50" y1="345.20" x2="211.50" y2="345.20" stroke="#000" stroke-width="1.8" />
<rect x="201.45" y="350.75" width="12.10" height="100.75" fill="#fff" stroke="none"/>
<g clip-path="url(#c16)" stroke="#000" fill="none"><line x1="199.45" y1="324.80" x2="215.55" y2="310.31" stroke-width="2.5"/><line x1="199.45" y1="333.25" x2="215.55" y2="318.76" stroke-width="2.5"/><line x1="199.45" y1="341.70" x2="215.55" y2="327.21" stroke-width="2.5"/><line x1="199.45" y1="350.15" x2="215.55" y2="335.66" stroke-width="2.5"/><line x1="199.45" y1="358.60" x2="215.55" y2="344.11" stroke-width="2.5"/><line x1="199.45" y1="367.05" x2="215.55" y2="352.56" stroke-width="2.5"/><line x1="199.45" y1="375.50" x2="215.55" y2="361.01" stroke-width="2.5"/><line x1="199.45" y1="383.95" x2="215.55" y2="369.46" stroke-width="2.5"/><line x1="199.45" y1="392.40" x2="215.55" y2="377.91" stroke-width="2.5"/><line x1="199.45" y1="400.85" x2="215.55" y2="386.36" stroke-width="2.5"/><line x1="199.45" y1="409.30" x2="215.55" y2="394.81" stroke-width="2.5"/><line x1="199.45" y1="417.75" x2="215.55" y2="403.26" stroke-width="2.5"/><line x1="199.45" y1="426.20" x2="215.55" y2="411.71" stroke-width="2.5"/><line x1="199.45" y1="434.65" x2="215.55" y2="420.16" stroke-width="2.5"/><line x1="199.45" y1="443.10" x2="215.55" y2="428.61" stroke-width="2.5"/><line x1="199.45" y1="451.55" x2="215.55" y2="437.06" stroke-width="2.5"/><line x1="199.45" y1="460.00" x2="215.55" y2="445.51" stroke-width="2.5"/><line x1="199.45" y1="468.45" x2="215.55" y2="453.96" stroke-width="2.5"/><line x1="199.45" y1="476.90" x2="215.55" y2="462.41" stroke-width="2.5"/><line x1="199.45" y1="485.35" x2="215.55" y2="470.86" stroke-width="2.5"/><line x1="199.45" y1="493.80" x2="215.55" y2="479.31" stroke-width="2.5"/></g>
<rect x="201.45" y="350.75" width="12.10" height="100.75" fill="none" stroke="#000" stroke-width="1.9"/>
<line x1="40.20" y1="327.85" x2="40.20" y2="452.45" stroke="#000" stroke-width="1.9" />
<line x1="35.50" y1="328.80" x2="40.20" y2="328.80" stroke="#000" stroke-width="1.9" />
<text x="32.40" y="332.73" font-size="9.8" text-anchor="end" >60</text>
<line x1="35.50" y1="349.25" x2="40.20" y2="349.25" stroke="#000" stroke-width="1.9" />
<text x="32.40" y="353.18" font-size="9.8" text-anchor="end" >50</text>
<line x1="35.50" y1="369.70" x2="40.20" y2="369.70" stroke="#000" stroke-width="1.9" />
<text x="32.40" y="373.63" font-size="9.8" text-anchor="end" >40</text>
<line x1="35.50" y1="390.15" x2="40.20" y2="390.15" stroke="#000" stroke-width="1.9" />
<text x="32.40" y="394.08" font-size="9.8" text-anchor="end" >30</text>
<line x1="35.50" y1="410.60" x2="40.20" y2="410.60" stroke="#000" stroke-width="1.9" />
<text x="32.40" y="414.53" font-size="9.8" text-anchor="end" >20</text>
<line x1="35.50" y1="431.05" x2="40.20" y2="431.05" stroke="#000" stroke-width="1.9" />
<text x="32.40" y="434.98" font-size="9.8" text-anchor="end" >10</text>
<line x1="35.50" y1="451.50" x2="40.20" y2="451.50" stroke="#000" stroke-width="1.9" />
<text x="32.40" y="455.43" font-size="9.8" text-anchor="end" >0</text>
<line x1="39.40" y1="451.50" x2="223.00" y2="451.50" stroke="#000" stroke-width="1.9" />
<line x1="47.50" y1="455.70" x2="119.60" y2="455.70" stroke="#000" stroke-width="1.5" />
<line x1="141.50" y1="455.70" x2="214.50" y2="455.70" stroke="#000" stroke-width="1.5" />
<text x="85.00" y="470.00" font-size="12" text-anchor="middle" >0 ng/ml</text>
<text x="179.50" y="470.00" font-size="12" text-anchor="middle" >100 ng/ml</text>
<text x="11.20" y="384.40" font-size="12.4" text-anchor="middle" font-weight="bold" transform="rotate(-90 11.20 384.40)" ><tspan font-weight="normal" font-size="11.5">β</tspan>-Hex release (%)</text>
<text x="148.80" y="387.60" font-size="11.5" text-anchor="middle" stroke="#000" stroke-width="0.3">***</text>
<text x="168.50" y="347.10" font-size="9" text-anchor="middle" letter-spacing="0.6" stroke="#000" stroke-width="0.45">+++</text>
<text x="187.80" y="373.90" font-size="11.5" text-anchor="middle" stroke="#000" stroke-width="0.3">**</text>
<text x="207.80" y="337.70" font-size="9" text-anchor="middle" letter-spacing="0.6" stroke="#000" stroke-width="0.45">+++</text>
<line x1="314.30" y1="421.40" x2="314.30" y2="422.70" stroke="#000" stroke-width="1.8" />
<line x1="306.30" y1="421.40" x2="322.30" y2="421.40" stroke="#000" stroke-width="1.8" />
<rect x="299.65" y="423.65" width="29.30" height="27.85" fill="#000" stroke="none"/>
<rect x="299.65" y="423.65" width="29.30" height="27.85" fill="none" stroke="#000" stroke-width="1.9"/>
<line x1="359.65" y1="329.80" x2="359.65" y2="340.60" stroke="#000" stroke-width="1.8" />
<line x1="351.65" y1="329.80" x2="367.65" y2="329.80" stroke="#000" stroke-width="1.8" />
<rect x="345.25" y="341.55" width="28.80" height="109.95" fill="#fff" stroke="none"/>
<rect x="345.25" y="341.55" width="28.80" height="109.95" fill="none" stroke="#000" stroke-width="1.9"/>
<line x1="405.15" y1="406.00" x2="405.15" y2="413.70" stroke="#000" stroke-width="1.8" />
<line x1="397.15" y1="406.00" x2="413.15" y2="406.00" stroke="#000" stroke-width="1.8" />
<rect x="389.95" y="414.65" width="30.40" height="36.85" fill="#fff" stroke="none"/>
<g clip-path="url(#c17)" stroke="#000" fill="none"><line x1="389.95" y1="421.05" x2="420.35" y2="421.05" stroke-width="2.2"/><line x1="389.95" y1="428.35" x2="420.35" y2="428.35" stroke-width="2.2"/><line x1="389.95" y1="435.65" x2="420.35" y2="435.65" stroke-width="2.2"/><line x1="389.95" y1="442.95" x2="420.35" y2="442.95" stroke-width="2.2"/><line x1="389.95" y1="450.25" x2="420.35" y2="450.25" stroke-width="2.2"/></g>
<rect x="389.95" y="414.65" width="30.40" height="36.85" fill="none" stroke="#000" stroke-width="1.9"/>
<line x1="450.40" y1="336.50" x2="450.40" y2="349.60" stroke="#000" stroke-width="1.8" />
<line x1="442.40" y1="336.50" x2="458.40" y2="336.50" stroke="#000" stroke-width="1.8" />
<rect x="435.55" y="350.55" width="29.70" height="100.95" fill="#fff" stroke="none"/>
<g clip-path="url(#c18)" stroke="#000" fill="none"><line x1="433.55" y1="325.51" x2="467.25" y2="294.17" stroke-width="2.4"/><line x1="433.55" y1="333.71" x2="467.25" y2="302.37" stroke-width="2.4"/><line x1="433.55" y1="341.91" x2="467.25" y2="310.57" stroke-width="2.4"/><line x1="433.55" y1="350.11" x2="467.25" y2="318.77" stroke-width="2.4"/><line x1="433.55" y1="358.31" x2="467.25" y2="326.97" stroke-width="2.4"/><line x1="433.55" y1="366.51" x2="467.25" y2="335.17" stroke-width="2.4"/><line x1="433.55" y1="374.71" x2="467.25" y2="343.37" stroke-width="2.4"/><line x1="433.55" y1="382.91" x2="467.25" y2="351.57" stroke-width="2.4"/><line x1="433.55" y1="391.11" x2="467.25" y2="359.77" stroke-width="2.4"/><line x1="433.55" y1="399.31" x2="467.25" y2="367.97" stroke-width="2.4"/><line x1="433.55" y1="407.51" x2="467.25" y2="376.17" stroke-width="2.4"/><line x1="433.55" y1="415.71" x2="467.25" y2="384.37" stroke-width="2.4"/><line x1="433.55" y1="423.91" x2="467.25" y2="392.57" stroke-width="2.4"/><line x1="433.55" y1="432.11" x2="467.25" y2="400.77" stroke-width="2.4"/><line x1="433.55" y1="440.31" x2="467.25" y2="408.97" stroke-width="2.4"/><line x1="433.55" y1="448.51" x2="467.25" y2="417.17" stroke-width="2.4"/><line x1="433.55" y1="456.71" x2="467.25" y2="425.37" stroke-width="2.4"/><line x1="433.55" y1="464.91" x2="467.25" y2="433.57" stroke-width="2.4"/><line x1="433.55" y1="473.11" x2="467.25" y2="441.77" stroke-width="2.4"/><line x1="433.55" y1="481.31" x2="467.25" y2="449.97" stroke-width="2.4"/><line x1="433.55" y1="489.51" x2="467.25" y2="458.17" stroke-width="2.4"/><line x1="433.55" y1="497.71" x2="467.25" y2="466.37" stroke-width="2.4"/><line x1="433.55" y1="505.91" x2="467.25" y2="474.57" stroke-width="2.4"/></g>
<rect x="435.55" y="350.55" width="29.70" height="100.95" fill="none" stroke="#000" stroke-width="1.9"/>
<line x1="291.20" y1="328.05" x2="291.20" y2="452.45" stroke="#000" stroke-width="1.9" />
<line x1="285.50" y1="329.00" x2="291.20" y2="329.00" stroke="#000" stroke-width="1.9" />
<text x="283.00" y="333.76" font-size="9.6" text-anchor="end" >12.5</text>
<line x1="285.50" y1="353.45" x2="291.20" y2="353.45" stroke="#000" stroke-width="1.9" />
<text x="283.00" y="358.21" font-size="9.6" text-anchor="end" >10.0</text>
<line x1="285.50" y1="377.90" x2="291.20" y2="377.90" stroke="#000" stroke-width="1.9" />
<text x="283.00" y="382.66" font-size="9.6" text-anchor="end" >7.5</text>
<line x1="285.50" y1="402.35" x2="291.20" y2="402.35" stroke="#000" stroke-width="1.9" />
<text x="283.00" y="407.11" font-size="9.6" text-anchor="end" >5.0</text>
<line x1="285.50" y1="426.80" x2="291.20" y2="426.80" stroke="#000" stroke-width="1.9" />
<text x="283.00" y="431.56" font-size="9.6" text-anchor="end" >2.5</text>
<line x1="285.50" y1="451.25" x2="291.20" y2="451.25" stroke="#000" stroke-width="1.9" />
<text x="283.00" y="456.01" font-size="9.6" text-anchor="end" >0</text>
<line x1="290.40" y1="451.50" x2="473.80" y2="451.50" stroke="#000" stroke-width="1.9" />
<text x="260.40" y="389.50" font-size="12.6" text-anchor="middle" font-weight="bold" transform="rotate(-90 260.40 389.50)" >IL-6 (ng/ml)</text>
<text x="314.30" y="416.40" font-size="11.5" text-anchor="middle" stroke="#000" stroke-width="0.3">***</text>
<text x="359.90" y="322.20" font-size="9" text-anchor="middle" letter-spacing="0.6" stroke="#000" stroke-width="0.45">+++</text>
<text x="405.30" y="400.40" font-size="11.5" text-anchor="middle" stroke="#000" stroke-width="0.3">***</text>
<text x="450.90" y="328.70" font-size="9" text-anchor="middle" letter-spacing="0.6" stroke="#000" stroke-width="0.45">+++</text>
<line x1="57.15" y1="678.70" x2="57.15" y2="683.30" stroke="#000" stroke-width="1.8" />
<line x1="50.65" y1="678.70" x2="63.65" y2="678.70" stroke="#000" stroke-width="1.8" />
<rect x="45.35" y="684.25" width="23.60" height="23.15" fill="#000" stroke="none"/>
<rect x="45.35" y="684.25" width="23.60" height="23.15" fill="none" stroke="#000" stroke-width="1.9"/>
<line x1="93.20" y1="627.50" x2="93.20" y2="638.50" stroke="#000" stroke-width="1.8" />
<line x1="86.70" y1="627.50" x2="99.70" y2="627.50" stroke="#000" stroke-width="1.8" />
<rect x="81.40" y="639.45" width="23.60" height="67.95" fill="#fff" stroke="none"/>
<rect x="81.40" y="639.45" width="23.60" height="67.95" fill="none" stroke="#000" stroke-width="1.9"/>
<line x1="129.25" y1="670.20" x2="129.25" y2="673.00" stroke="#000" stroke-width="1.8" />
<line x1="122.75" y1="670.20" x2="135.75" y2="670.20" stroke="#000" stroke-width="1.8" />
<rect x="117.45" y="673.95" width="23.60" height="33.45" fill="#000" stroke="none"/>
<rect x="117.45" y="673.95" width="23.60" height="33.45" fill="none" stroke="#000" stroke-width="1.9"/>
<line x1="165.30" y1="603.40" x2="165.30" y2="613.20" stroke="#000" stroke-width="1.8" />
<line x1="158.80" y1="603.40" x2="171.80" y2="603.40" stroke="#000" stroke-width="1.8" />
<rect x="153.50" y="614.15" width="23.60" height="93.25" fill="#fff" stroke="none"/>
<rect x="153.50" y="614.15" width="23.60" height="93.25" fill="none" stroke="#000" stroke-width="1.9"/>
<line x1="201.35" y1="660.80" x2="201.35" y2="667.50" stroke="#000" stroke-width="1.8" />
<line x1="194.85" y1="660.80" x2="207.85" y2="660.80" stroke="#000" stroke-width="1.8" />
<rect x="189.55" y="668.45" width="23.60" height="38.95" fill="#000" stroke="none"/>
<rect x="189.55" y="668.45" width="23.60" height="38.95" fill="none" stroke="#000" stroke-width="1.9"/>
<line x1="237.40" y1="601.00" x2="237.40" y2="619.00" stroke="#000" stroke-width="1.8" />
<line x1="230.90" y1="601.00" x2="243.90" y2="601.00" stroke="#000" stroke-width="1.8" />
<rect x="225.60" y="619.95" width="23.60" height="87.45" fill="#fff" stroke="none"/>
<rect x="225.60" y="619.95" width="23.60" height="87.45" fill="none" stroke="#000" stroke-width="1.9"/>
<line x1="273.45" y1="684.40" x2="273.45" y2="690.30" stroke="#000" stroke-width="1.8" />
<line x1="266.95" y1="684.40" x2="279.95" y2="684.40" stroke="#000" stroke-width="1.8" />
<rect x="261.65" y="691.25" width="23.60" height="16.15" fill="#000" stroke="none"/>
<rect x="261.65" y="691.25" width="23.60" height="16.15" fill="none" stroke="#000" stroke-width="1.9"/>
<line x1="309.50" y1="681.90" x2="309.50" y2="689.20" stroke="#000" stroke-width="1.8" />
<line x1="303.00" y1="681.90" x2="316.00" y2="681.90" stroke="#000" stroke-width="1.8" />
<rect x="297.70" y="690.15" width="23.60" height="17.25" fill="#fff" stroke="none"/>
<rect x="297.70" y="690.15" width="23.60" height="17.25" fill="none" stroke="#000" stroke-width="1.9"/>
<line x1="345.55" y1="605.80" x2="345.55" y2="622.90" stroke="#000" stroke-width="1.8" />
<line x1="339.05" y1="605.80" x2="352.05" y2="605.80" stroke="#000" stroke-width="1.8" />
<rect x="333.75" y="623.85" width="23.60" height="83.55" fill="#000" stroke="none"/>
<rect x="333.75" y="623.85" width="23.60" height="83.55" fill="none" stroke="#000" stroke-width="1.9"/>
<line x1="381.60" y1="603.70" x2="381.60" y2="617.70" stroke="#000" stroke-width="1.8" />
<line x1="375.10" y1="603.70" x2="388.10" y2="603.70" stroke="#000" stroke-width="1.8" />
<rect x="369.80" y="618.65" width="23.60" height="88.75" fill="#fff" stroke="none"/>
<rect x="369.80" y="618.65" width="23.60" height="88.75" fill="none" stroke="#000" stroke-width="1.9"/>
<line x1="417.65" y1="552.40" x2="417.65" y2="565.30" stroke="#000" stroke-width="1.8" />
<line x1="411.15" y1="552.40" x2="424.15" y2="552.40" stroke="#000" stroke-width="1.8" />
<rect x="405.85" y="566.25" width="23.60" height="141.15" fill="#000" stroke="none"/>
<rect x="405.85" y="566.25" width="23.60" height="141.15" fill="none" stroke="#000" stroke-width="1.9"/>
<line x1="453.70" y1="540.20" x2="453.70" y2="552.40" stroke="#000" stroke-width="1.8" />
<line x1="447.20" y1="540.20" x2="460.20" y2="540.20" stroke="#000" stroke-width="1.8" />
<rect x="441.90" y="553.35" width="23.60" height="154.05" fill="#fff" stroke="none"/>
<rect x="441.90" y="553.35" width="23.60" height="154.05" fill="none" stroke="#000" stroke-width="1.9"/>
<line x1="39.60" y1="529.85" x2="39.60" y2="708.35" stroke="#000" stroke-width="1.9" />
<line x1="34.00" y1="530.80" x2="39.60" y2="530.80" stroke="#000" stroke-width="1.9" />
<text x="33.20" y="535.88" font-size="10.5" text-anchor="end" >8.0</text>
<line x1="34.00" y1="574.95" x2="39.60" y2="574.95" stroke="#000" stroke-width="1.9" />
<text x="33.20" y="580.03" font-size="10.5" text-anchor="end" >6.0</text>
<line x1="34.00" y1="619.10" x2="39.60" y2="619.10" stroke="#000" stroke-width="1.9" />
<text x="33.20" y="624.18" font-size="10.5" text-anchor="end" >4.0</text>
<line x1="34.00" y1="663.25" x2="39.60" y2="663.25" stroke="#000" stroke-width="1.9" />
<text x="33.20" y="668.33" font-size="10.5" text-anchor="end" >2.0</text>
<line x1="34.00" y1="707.40" x2="39.60" y2="707.40" stroke="#000" stroke-width="1.9" />
<text x="33.20" y="712.48" font-size="10.5" text-anchor="end" >0</text>
<line x1="38.80" y1="707.40" x2="473.60" y2="707.40" stroke="#000" stroke-width="1.9" />
<line x1="44.40" y1="711.60" x2="105.45" y2="711.60" stroke="#000" stroke-width="1.5" />
<text x="75.17" y="726.20" font-size="12.2" text-anchor="middle" >5</text>
<line x1="116.50" y1="711.60" x2="177.55" y2="711.60" stroke="#000" stroke-width="1.5" />
<text x="147.27" y="726.20" font-size="12.2" text-anchor="middle" >20</text>
<line x1="188.60" y1="711.60" x2="249.65" y2="711.60" stroke="#000" stroke-width="1.5" />
<text x="219.38" y="726.20" font-size="12.2" text-anchor="middle" >50</text>
<line x1="260.70" y1="711.60" x2="321.75" y2="711.60" stroke="#000" stroke-width="1.5" />
<text x="291.47" y="726.20" font-size="12.2" text-anchor="middle" >5</text>
<line x1="332.80" y1="711.60" x2="393.85" y2="711.60" stroke="#000" stroke-width="1.5" />
<text x="363.57" y="726.20" font-size="12.2" text-anchor="middle" >20</text>
<line x1="404.90" y1="711.60" x2="465.95" y2="711.60" stroke="#000" stroke-width="1.5" />
<text x="435.67" y="726.20" font-size="12.2" text-anchor="middle" >50</text>
<line x1="45.50" y1="732.60" x2="250.40" y2="732.60" stroke="#000" stroke-width="1.5" />
<line x1="261.00" y1="732.60" x2="465.50" y2="732.60" stroke="#000" stroke-width="1.5" />
<text x="154.50" y="749.00" font-size="12.2" text-anchor="middle" >Free DNP (ng/ml)</text>
<text x="363.50" y="749.00" font-size="12.2" text-anchor="middle" >Immobilized DNP</text>
<text x="370.50" y="763.20" font-size="12.4" text-anchor="middle" >[DNP concentration in coating buffer (ng/ml)]</text>
<text x="12.40" y="609.10" font-size="12.6" text-anchor="middle" font-weight="bold" transform="rotate(-90 12.40 609.10)" >IL-6 (ng/ml)</text>
<text x="94.50" y="616.00" font-size="10.5" text-anchor="middle" stroke="#000" stroke-width="0.3">##</text>
<text x="167.70" y="590.30" font-size="10.5" text-anchor="middle" stroke="#000" stroke-width="0.3">#</text>
<text x="239.20" y="590.30" font-size="10.5" text-anchor="middle" stroke="#000" stroke-width="0.3">#</text>
<rect x="481" y="551.4" width="13.6" height="8" fill="#000" stroke="#000" stroke-width="1.5"/>
<rect x="481" y="570.6" width="13.6" height="8" fill="#fff" stroke="#000" stroke-width="1.5"/>
<text x="501.30" y="559.30" font-size="12" text-anchor="start" >+/+</text>
<text x="501.30" y="578.50" font-size="12" text-anchor="start" >-/-</text>
</svg>
</body></html>
